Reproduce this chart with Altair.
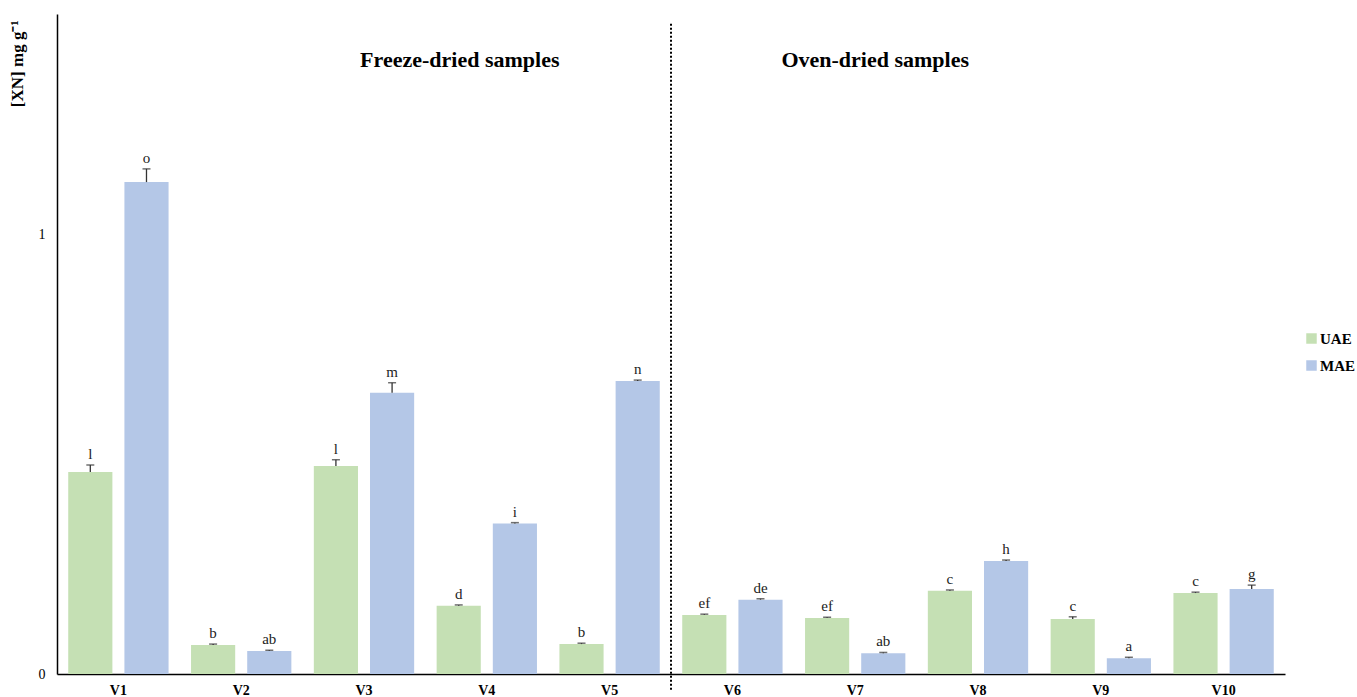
import altair as alt
import pandas as pd

# Xanthone content per variety, two extraction methods
varieties = ["V1", "V2", "V3", "V4", "V5", "V6", "V7", "V8", "V9", "V10"]
uae_vals = [0.459, 0.066, 0.473, 0.155, 0.068, 0.134, 0.127, 0.189, 0.125, 0.184]
mae_vals = [1.118, 0.052, 0.639, 0.342, 0.666, 0.169, 0.047, 0.257, 0.036, 0.193]
uae_err = [0.016, 0.002, 0.014, 0.002, 0.002, 0.002, 0.002, 0.002, 0.005, 0.002]
mae_err = [0.030, 0.002, 0.023, 0.002, 0.002, 0.002, 0.002, 0.002, 0.002, 0.009]
uae_letters = ["l", "b", "l", "d", "b", "ef", "ef", "c", "c", "c"]
mae_letters = ["o", "ab", "m", "i", "n", "de", "ab", "h", "a", "g"]
methods = ["UAE", "MAE"]
colors = ["#C5E0B4", "#B4C7E7"]

rows = []
for i, v in enumerate(varieties):
    rows.append({"variety": v, "method": "UAE", "value": uae_vals[i],
                 "top": uae_vals[i] + uae_err[i], "letter": uae_letters[i]})
    rows.append({"variety": v, "method": "MAE", "value": mae_vals[i],
                 "top": mae_vals[i] + mae_err[i], "letter": mae_letters[i]})
df = pd.DataFrame(rows)

SERIF = "Liberation Serif"

x_enc = alt.X(
    "variety:N",
    scale=alt.Scale(domain=varieties, paddingInner=0, paddingOuter=0),
    axis=alt.Axis(title=None, labelAngle=0, labelFont=SERIF, labelFontWeight="bold",
                  labelFontSize=14, labelColor="black", ticks=False, labelPadding=9,
                  domainColor="black", domainWidth=1.5),
)
xoff = alt.XOffset(
    "method:N",
    scale=alt.Scale(domain=methods, paddingInner=0.214, paddingOuter=0.2),
)
y_scale = alt.Scale(domain=[0, 1.5], nice=False)

base = alt.Chart(df)

bars = base.mark_bar().encode(
    x=x_enc,
    xOffset=xoff,
    y=alt.Y(
        "value:Q",
        scale=y_scale,
        axis=alt.Axis(title="[XN] mg g⁻¹", values=[0, 1], format="d", grid=False,
                      ticks=False, labelFont=SERIF, labelFontSize=14, labelColor="black",
                      labelPadding=12, domainColor="black", domainWidth=1.5,
                      titleFont=SERIF, titleFontSize=17, titleFontWeight="bold",
                      titleColor="black", titleAnchor="end", titlePadding=12, titleY=6),
    ),
    color=alt.Color(
        "method:N",
        scale=alt.Scale(domain=methods, range=colors),
        legend=alt.Legend(title=None, orient="none", legendX=1247, legendY=317,
                          symbolType="square", symbolSize=110, symbolStrokeWidth=0,
                          labelFont=SERIF, labelFontSize=15, labelFontWeight="bold",
                          labelColor="black", rowPadding=11, labelOffset=1),
    ),
)

err_line = base.mark_rule(color="#333333", strokeWidth=1.3).encode(
    x=alt.X("variety:N"), xOffset=xoff,
    y=alt.Y("value:Q", scale=y_scale), y2="top:Q",
)
err_cap = base.mark_tick(color="#333333", thickness=1.5, size=8).encode(
    x=alt.X("variety:N"), xOffset=xoff,
    y=alt.Y("top:Q", scale=y_scale),
)
letters = base.mark_text(font=SERIF, fontSize=15, color="#222222",
                         baseline="bottom", dy=-3).encode(
    x=alt.X("variety:N"), xOffset=xoff,
    y=alt.Y("top:Q", scale=y_scale),
    text="letter:N",
)

# dotted separator between freeze-dried and oven-dried groups
sep = alt.Chart(pd.DataFrame({"variety": ["V6"]})).mark_rule(
    color="black", strokeWidth=2, strokeDash=[2, 2]
).encode(
    x=alt.X("variety:N", bandPosition=0),
    y=alt.datum(1.478, scale=y_scale),
    y2=alt.datum(-0.036),
)

freeze = alt.Chart(pd.DataFrame({"variety": ["V4"], "label": ["Freeze-dried samples"]})).mark_text(
    font=SERIF, fontSize=22, fontWeight="bold", color="black", dx=-27
).encode(x=alt.X("variety:N"), y=alt.datum(1.395, scale=y_scale), text="label:N")

oven = alt.Chart(pd.DataFrame({"variety": ["V7"], "label": ["Oven-dried samples"]})).mark_text(
    font=SERIF, fontSize=22, fontWeight="bold", color="black", dx=20
).encode(x=alt.X("variety:N"), y=alt.datum(1.395, scale=y_scale), text="label:N")

chart = alt.layer(bars, err_line, err_cap, letters, sep, freeze, oven).properties(
    width=1228,
    height=660,
    autosize=alt.AutoSizeParams(type="none"),
    padding={"left": 57, "top": 14, "right": 72, "bottom": 23},
    background="white",
).configure_view(stroke=None)

chart.save("out.html", embed_options={"renderer": "svg", "actions": False})
